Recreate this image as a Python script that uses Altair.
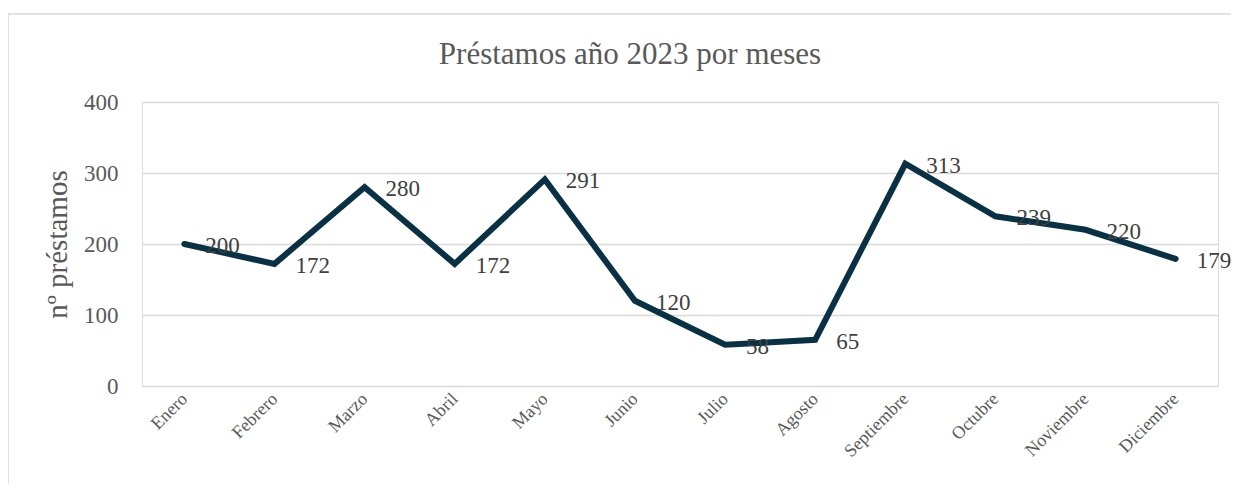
import altair as alt
import pandas as pd

meses = ["Enero", "Febrero", "Marzo", "Abril", "Mayo", "Junio", "Julio",
         "Agosto", "Septiembre", "Octubre", "Noviembre", "Diciembre"]
prestamos = [200, 172, 280, 172, 291, 120, 58, 65, 313, 239, 220, 179]
y_ticks = [0, 100, 200, 300, 400]
titulo = "Préstamos año 2023 por meses"

df = pd.DataFrame({"mes": meses, "n": prestamos})

FONT = "Palatino Linotype, Book Antiqua, Palatino, Liberation Serif, serif"
LINE = "#0a3044"
GREY = "#595959"

x = alt.X("mes:N", sort=meses, title=None,
          scale=alt.Scale(type="point", padding=0.47),
          axis=alt.Axis(labelAngle=-45, labelFontSize=18, labelColor=GREY,
                        labelFont=FONT, ticks=False, domain=False, grid=False,
                        labelPadding=10, labelAlign="right", labelBaseline="middle"))
y = alt.Y("n:Q", title="nº préstamos",
          scale=alt.Scale(domain=[0, 400], nice=False),
          axis=alt.Axis(values=y_ticks, labelFontSize=23, labelColor=GREY,
                        labelFont=FONT, ticks=False, domain=False,
                        gridColor="#d9d9d9", gridWidth=1.5, labelPadding=24,
                        titleFont=FONT, titleFontSize=29, titleColor=GREY,
                        titleFontWeight="normal", titleX=-76, titleY=142,
                        titleAngle=-90, titleBaseline="alphabetic", titleAlign="center"))

base = alt.Chart(df)

line = base.mark_line(color=LINE, strokeWidth=6, strokeJoin="miter",
                      strokeCap="round").encode(x=x, y=y)
labels = base.mark_text(align="left", baseline="middle", dx=21, dy=2,
                        font=FONT, fontSize=23, color="#404040").encode(
    x=x, y=y, text=alt.Text("n:Q"))

one = pd.DataFrame({"t": [titulo]})
title_mark = alt.Chart(one).mark_text(
    font=FONT, fontSize=31, color=GREY, align="center", baseline="alphabetic"
).encode(x=alt.value(488), y=alt.value(-38), text="t:N")

border_top = alt.Chart(one).mark_rule(color="#d9d9d9", strokeWidth=1.5).encode(
    x=alt.value(-134), x2=alt.value(1200), y=alt.value(-88))
border_left = alt.Chart(one).mark_rule(color="#d9d9d9", strokeWidth=1.5).encode(
    x=alt.value(-134), y=alt.value(-88), y2=alt.value(500))

chart = alt.layer(border_top, border_left, title_mark, line, labels).properties(
    width=1076, height=284,
    autosize=alt.AutoSizeParams(type="none"),
    padding={"left": 134, "top": 94, "right": 13, "bottom": 97},
).configure_view(strokeWidth=0, stroke="transparent").configure(background="white")

chart.save("out.html", embed_options={"renderer": "svg", "actions": False})
